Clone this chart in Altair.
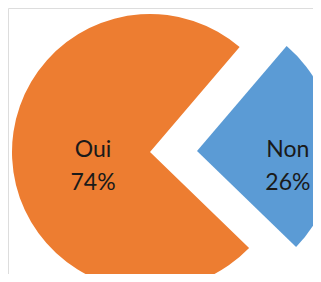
import altair as alt
import pandas as pd

categories = ["Non", "Oui"]
values = [26, 74]
labels = ["Non\n26%", "Oui\n74%"]
order = [0, 1]
colors = ["#5B9BD5", "#ED7D31"]

df = pd.DataFrame({"cat": categories, "value": values, "label": labels, "order": order})

START = 0.7069
TAU = 6.283185307

base = (
    alt.Chart(df)
    .transform_stack(stack="value", as_=["v0", "v1"], groupby=[], sort=[alt.SortField("order")])
    .transform_calculate(mid="(datum.v0 + datum.v1) / 2")
)

theta_scale = alt.Scale(domain=[0, 100], range=[START, START + TAU])
color = alt.Color("cat:N", scale=alt.Scale(domain=categories, range=colors), legend=None)


def slice_layers(cat, cx, cy, r_label, dy):
    b = base.transform_filter(alt.datum.cat == cat)
    arc = b.mark_arc(radius=138).encode(
        theta=alt.Theta("v0:Q", scale=theta_scale),
        theta2="v1:Q",
        color=color,
        x=alt.value(cx),
        y=alt.value(cy),
    )
    txt = b.mark_text(
        radius=r_label, font="Lato", fontSize=23, lineHeight=33, color="#1a1a1a",
        baseline="middle", align="center", dy=dy, lineBreak="\n",
    ).encode(
        theta=alt.Theta("mid:Q", scale=theta_scale),
        text="label:N",
        x=alt.value(cx),
        y=alt.value(cy),
    )
    return [arc, txt]


layers = slice_layers("Oui", 142, 144, 57, -5) + slice_layers("Non", 189, 143, 91, 3)

chart = (
    alt.layer(*layers)
    .properties(width=305, height=266, padding=0, autosize=alt.AutoSizeParams(type="none"))
    .configure_view(strokeWidth=0, stroke="transparent")
    .configure(background="white")
)

chart.save("out.html", embed_options={"renderer": "svg", "actions": False})
